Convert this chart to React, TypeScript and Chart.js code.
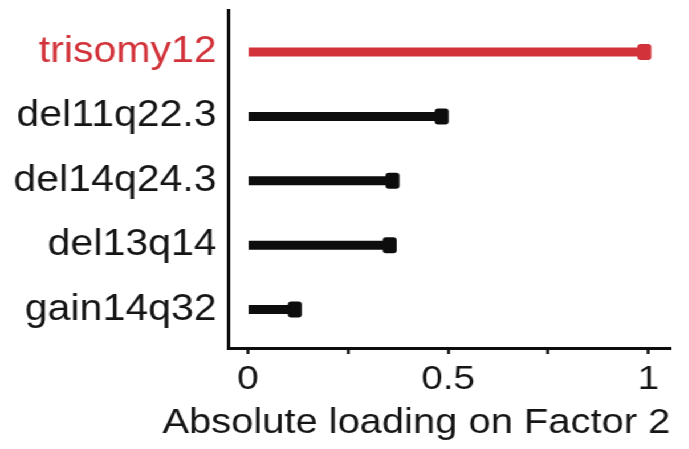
import { useEffect, useRef } from 'react';
import { Chart, registerables } from 'chart.js';

Chart.register(...registerables);

// ---- data ----
const categories = ['trisomy12', 'del11q22.3', 'del14q24.3', 'del13q14', 'gain14q32'];
const loadings = [0.99, 0.484, 0.361, 0.354, 0.117];
const highlighted = ['trisomy12'];
const xTickValues = [0, 0.25, 0.5, 0.75, 1];
const xTickLabels = ['0', '', '0.5', '', '1'];
const axisTitle = 'Absolute loading on Factor 2';

// ---- style ----
const RED = '#d2333a';
const INK = '#0d0d0d';
const FAMILY = '"Liberation Sans", Arial, Helvetica, sans-serif';
const STRETCH = 1.14;
const W = 604;
const H = 449;
const AREA_BOTTOM = 348;
const TITLE_BOX = 47;
const MARK_HALF = 0.0175;

export default function App() {
  const ref = useRef<HTMLCanvasElement | null>(null);

  useEffect(() => {
    if (!ref.current) return;
    const colors = categories.map((c) => (highlighted.includes(c) ? RED : INK));
    const chart = new Chart(ref.current, {
      type: 'bar',
      data: {
        datasets: [
          {
            data: loadings.map((v, i) => ({ x: v, y: i })) as any,
            backgroundColor: colors,
            borderWidth: 0,
            grouped: false,
            maxBarThickness: 9,
          } as any,
          {
            data: loadings.map((v, i) => ({ x: [v - MARK_HALF, v + MARK_HALF], y: i })) as any,
            backgroundColor: colors,
            borderWidth: 0,
            grouped: false,
            maxBarThickness: 16,
            borderRadius: 3,
            borderSkipped: false,
          } as any,
        ],
      },
      options: {
        animation: false,
        responsive: true,
        maintainAspectRatio: false,
        indexAxis: 'y',
        layout: { padding: { top: 10, right: 16, left: 0, bottom: 0 } },
        plugins: {
          legend: { display: false },
          tooltip: { enabled: false },
          title: {
            display: true,
            position: 'bottom',
            align: 'end',
            text: axisTitle,
            color: '#151515',
            font: { family: FAMILY, size: 35, weight: 'normal', lineHeight: 1.2 },
            padding: { top: 0, bottom: 5 },
          },
        },
        scales: {
          x: {
            type: 'linear',
            min: -0.05,
            max: 1.055,
            stacked: false,
            offset: false,
            afterBuildTicks: (s: any) => {
              s.ticks = xTickValues.map((v) => ({ value: v }));
            },
            afterFit: (s: any) => {
              s.height = H - AREA_BOTTOM - TITLE_BOX;
              s.paddingLeft = 0;
              s.paddingRight = 0;
            },
            grid: {
              offset: false,
              drawOnChartArea: false,
              drawTicks: true,
              tickLength: 6,
              tickWidth: 2.5,
              tickColor: INK,
            },
            border: { display: true, color: INK, width: 3 },
            ticks: {
              color: '#151515',
              font: { family: FAMILY, size: 34 },
              padding: 5,
              maxRotation: 0,
              autoSkip: false,
              callback: (v: any) => {
                const k = xTickValues.indexOf(Number(v));
                return k >= 0 ? xTickLabels[k] : '';
              },
            },
          },
          y: {
            type: 'linear',
            min: -0.652,
            max: 4.596,
            reverse: true,
            offset: false,
            afterBuildTicks: (s: any) => {
              s.ticks = categories.map((_, i) => ({ value: i }));
            },
            afterFit: (s: any) => {
              s.width = 200;
              s.paddingTop = 0;
              s.paddingBottom = 0;
            },
            grid: { display: false, drawTicks: false, offset: false },
            border: { display: true, color: INK, width: 3 },
            ticks: {
              padding: 10,
              autoSkip: false,
              font: { family: FAMILY, size: 36 },
              color: (ctx: any) =>
                highlighted.includes(categories[ctx.tick?.value]) ? RED : '#151515',
              callback: (v: any) => categories[Number(v)] ?? '',
            },
          },
        },
      } as any,
    });
    return () => chart.destroy();
  }, []);

  return (
    <div
      style={{
        position: 'fixed',
        left: 0,
        top: 0,
        width: W,
        height: H,
        transform: `scaleX(${STRETCH})`,
        transformOrigin: '0 0',
        background: '#fff',
      }}
    >
      <canvas ref={ref} style={{ display: 'block' }} />
    </div>
  );
}
